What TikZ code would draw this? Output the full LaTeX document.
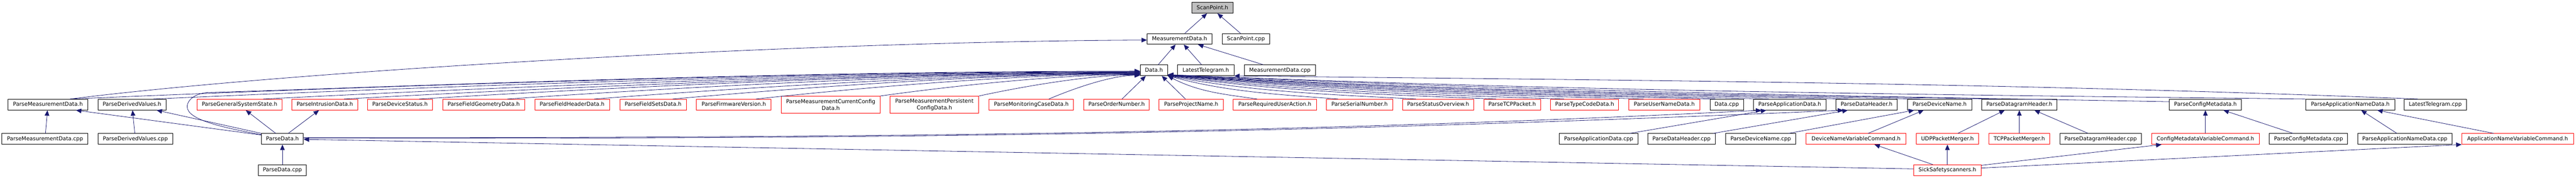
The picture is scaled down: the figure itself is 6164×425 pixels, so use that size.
\documentclass[tikz,border=0pt]{standalone}
\usepackage{fontspec}
\setmainfont{DejaVu Sans}
\usetikzlibrary{arrows.meta}
\definecolor{edgeblue}{HTML}{191970}
\definecolor{nodegray}{HTML}{BFBFBF}
\begin{document}
\begin{tikzpicture}[x=1bp,y=-1bp,
  box/.style={draw=black, line width=1.1bp, fill=white, inner sep=0pt, minimum height=25.7bp, text height=9.6bp, text depth=2.6bp, font=\fontsize{12.9bp}{15.6bp}\selectfont},
  blk/.style={box, minimum width=#1},
  redb/.style={box, draw=red, minimum width=#1},
  redtwo/.style={draw=red, line width=1.1bp, fill=white, inner sep=0pt, minimum width=#1, minimum height=40.3bp, align=center, font=\fontsize{12.9bp}{15.6bp}\selectfont},
  dep/.style={draw=edgeblue, line width=1bp, arrows={-Triangle[length=13bp,width=11bp]}}]
\useasboundingbox (0,0) rectangle (6164,425);
% row 0-2
\node[blk=99bp, fill=nodegray] (sph) at (2901.2,18.7) {ScanPoint.h};
\node[blk=155bp] (mdh) at (2822.5,93) {MeasurementData.h};
\node[blk=113.3bp] (spcpp) at (2981.3,93) {ScanPoint.cpp};
\node[blk=65.3bp] (datah) at (2761.3,168) {Data.h};
\node[blk=135bp] (lth) at (2885.2,168) {LatestTelegram.h};
\node[blk=170.3bp] (mdcpp) at (3062.5,168) {MeasurementData.cpp};
% row 3
\node[blk=191.3bp] (pmdh) at (114.7,250) {ParseMeasurementData.h};
\node[blk=163bp] (pdvh) at (315.8,250) {ParseDerivedValues.h};
\node[redb=203bp] (pgssh) at (573.2,250) {ParseGeneralSystemState.h};
\node[redb=157.3bp] (pidh) at (777.3,250) {ParseIntrusionData.h};
\node[redb=155bp] (pdsh) at (957.2,250) {ParseDeviceStatus.h};
\node[redb=196bp] (pfgdh) at (1157.3,250) {ParseFieldGeometryData.h};
\node[redb=178.7bp] (pfhdh) at (1369,250) {ParseFieldHeaderData.h};
\node[redb=158.7bp] (pfsdh) at (1562.7,250) {ParseFieldSetsData.h};
\node[redb=178.7bp] (pfvh) at (1756,250) {ParseFirmwareVersion.h};
\node[redtwo=236.3bp] (pmccdh) at (1987.8,250) {ParseMeasurementCurrentConfig\\Data.h};
\node[redtwo=212.3bp] (pmpcdh) at (2235.8,250) {ParseMeasurementPersistent\\ConfigData.h};
\node[redb=202.7bp] (pmcdh) at (2467.7,250) {ParseMonitoringCaseData.h};
\node[redb=156.3bp] (ponh) at (2671.8,250) {ParseOrderNumber.h};
\node[redb=153.3bp] (ppnh) at (2850.3,250) {ParseProjectName.h};
\node[redb=199bp] (pruah) at (3050.5,250) {ParseRequiredUserAction.h};
\node[redb=158bp] (psnh) at (3253.3,250) {ParseSerialNumber.h};
\node[redb=171bp] (psoh) at (3441.2,250) {ParseStatusOverview.h};
\node[redb=135bp] (ptcph) at (3618.5,250) {ParseTCPPacket.h};
\node[redb=163bp] (ptcdh) at (3791.8,250) {ParseTypeCodeData.h};
\node[redb=169.7bp] (pundh) at (3982.5,250) {ParseUserNameData.h};
\node[blk=80.3bp] (datacpp) at (4131.8,250) {Data.cpp};
\node[blk=173.7bp] (padh) at (4282.5,250) {ParseApplicationData.h};
\node[blk=147bp] (pdhh) at (4466.5,250) {ParseDataHeader.h};
\node[blk=153.7bp] (pdnh) at (4641.2,250) {ParseDeviceName.h};
\node[blk=180.7bp] (pdgh) at (4832,250) {ParseDatagramHeader.h};
\node[blk=172.3bp] (pcmh) at (5277.2,250) {ParseConfigMetadata.h};
\node[blk=212.3bp] (pandh) at (5623.8,250) {ParseApplicationNameData.h};
\node[blk=149.3bp] (ltcpp) at (5827.3,250) {LatestTelegram.cpp};
% row 4
\node[blk=206bp] (pmdcpp) at (107.7,332) {ParseMeasurementData.cpp};
\node[blk=179bp] (pdvcpp) at (323.8,332) {ParseDerivedValues.cpp};
\node[blk=100.3bp] (pdh) at (675.8,332) {ParseData.h};
\node[blk=188.3bp] (padcpp) at (3825.2,332) {ParseApplicationData.cpp};
\node[blk=161.3bp] (pdhcpp) at (4023.7,332) {ParseDataHeader.cpp};
\node[blk=168.3bp] (pdncpp) at (4213.2,332) {ParseDeviceName.cpp};
\node[redb=239bp] (dnvc) at (4441.2,332) {DeviceNameVariableCommand.h};
\node[redb=149bp] (udppm) at (4659.8,332) {UDPPacketMerger.h};
\node[redb=145bp] (tcppm) at (4831.8,332) {TCPPacketMerger.h};
\node[blk=195bp] (pdgcpp) at (5026.5,332) {ParseDatagramHeader.cpp};
\node[redb=257.7bp] (cmvc) at (5277.2,332) {ConfigMetadataVariableCommand.h};
\node[blk=187bp] (pcmcpp) at (5523.8,332) {ParseConfigMetadata.cpp};
\node[blk=226bp] (pandcpp) at (5754.3,332) {ParseApplicationNameData.cpp};
\node[redb=267bp] (anvc) at (6024.2,332) {ApplicationNameVariableCommand.h};
% row 5
\node[blk=114.3bp] (pdcpp) at (675.8,406.5) {ParseData.cpp};
\node[redb=161.7bp] (ssh) at (4659.8,406.5) {SickSafetyscanners.h};
% top edges
\draw[dep] ([xshift=12.5bp]mdh.north) -- ([xshift=-13bp]sph.south);
\draw[dep] ([xshift=-13bp]spcpp.north) -- ([xshift=12bp]sph.south);
\draw[dep] ([xshift=10bp]datah.north) -- ([xshift=-9.5bp]mdh.south);
\draw[dep] ([xshift=-10bp]lth.north) -- ([xshift=10bp]mdh.south);
\draw[dep] ([xshift=-39.5bp]mdcpp.north) -- ([xshift=44bp]mdh.south);
\draw[dep] ([xshift=53bp]pmdh.north) .. controls +(532,-67) and +(-845,4) .. ([yshift=-2.7bp]mdh.west);
% left fan into Data.h
\draw[dep] ([xshift=53bp]pmdh.north) .. controls +(768,-33) and +(-768,0) .. ([yshift=-3bp]datah.west);
\draw[dep] ([xshift=51bp]pdvh.north) .. controls +(709,-32) and +(-709,0) .. ([yshift=-4bp]datah.west);
\draw[dep] ([xshift=57bp]pgssh.north) .. controls +(630,-32) and +(-630,0) .. ([yshift=-5bp]datah.west);
\draw[dep] ([xshift=46bp]pidh.north) .. controls +(572,-31) and +(-572,0) .. ([yshift=-6bp]datah.west);
\draw[dep] ([xshift=46bp]pdsh.north) .. controls +(518,-31) and +(-518,0) .. ([yshift=-6bp]datah.west);
\draw[dep] ([xshift=57bp]pfgdh.north) .. controls +(455,-31) and +(-455,0) .. ([yshift=-7bp]datah.west);
\draw[dep] ([xshift=53bp]pfhdh.north) .. controls +(392,-30) and +(-392,0) .. ([yshift=-8bp]datah.west);
\draw[dep] ([xshift=47bp]pfsdh.north) .. controls +(336,-30) and +(-336,0) .. ([yshift=-8bp]datah.west);
\draw[dep] ([xshift=53bp]pfvh.north) .. controls +(276,-30) and +(-276,0) .. ([yshift=-9bp]datah.west);
\draw[dep] (pmccdh.north east) .. controls +(187,-26) and +(-187,0) .. ([yshift=-10bp]datah.west);
\draw[dep] (pmpcdh.north east) .. controls +(116,-25) and +(-116,0) .. ([yshift=-11bp]datah.west);
\draw[dep] ([xshift=42bp]pmcdh.north) .. controls +(66,-28) and +(-66,0) .. ([yshift=-12bp]datah.west);
\draw[dep] ([xshift=13bp]ponh.north) -- ([xshift=-19.6bp]datah.south);
\draw[dep] ([xshift=-13.6bp]ppnh.north) -- ([xshift=18.7bp]datah.south);
\draw[dep] ([yshift=-3bp]pdh.north west) .. controls +(-100,-18) and +(0,30) .. (448,255) .. controls +(0,-20) and +(-25,0) .. (500,221) .. controls +(400,-12) and +(-900,0) .. ([yshift=-2bp]datah.west);
% right fan into Data.h
\draw[dep] ([xshift=-42.5bp]pruah.north) .. controls +(-75,-11) and +(75,39) .. (datah.south east);
\draw[dep] ([xshift=-51.6bp]psnh.north) .. controls +(-143,-11) and +(143,39) .. ([yshift=0.5bp]datah.south east);
\draw[dep] ([xshift=-53bp]psoh.north) .. controls +(-208,-11) and +(208,39) .. ([yshift=0.5bp]datah.south east);
\draw[dep] ([xshift=-38.5bp]ptcph.north) .. controls +(-275,-11) and +(275,39) .. ([yshift=1bp]datah.south east);
\draw[dep] ([xshift=-49bp]ptcdh.north) .. controls +(-332,-11) and +(332,39) .. ([yshift=1bp]datah.south east);
\draw[dep] ([xshift=-49.5bp]pundh.north) .. controls +(-399,-11) and +(399,39) .. ([yshift=1.5bp]datah.south east);
\draw[dep] ([xshift=-27bp]datacpp.north) .. controls +(-459,-11) and +(459,39) .. ([yshift=1.5bp]datah.south east);
\draw[dep] ([xshift=-49.5bp]padh.north) .. controls +(-504,-11) and +(504,39) .. ([yshift=2bp]datah.south east);
\draw[dep] ([xshift=-43.5bp]pdhh.north) .. controls +(-570,-11) and +(570,39) .. ([yshift=2bp]datah.south east);
\draw[dep] ([xshift=-46bp]pdnh.north) .. controls +(-630,-11) and +(630,39) .. ([yshift=2.5bp]datah.south east);
\draw[dep] ([xshift=-52bp]pdgh.north) .. controls +(-695,-11) and +(695,39) .. ([yshift=2.5bp]datah.south east);
\draw[dep] ([yshift=7bp]pcmh.west) .. controls +(-839,-15) and +(839,39) .. ([yshift=3bp]datah.south east);
\draw[dep] (pandh.north west) .. controls +(-953,-11) and +(953,39) .. ([yshift=3bp]datah.south east);
\draw[dep] ([xshift=-42bp]ltcpp.north) .. controls +(-991,-39) and +(991,11) .. (lth.south east);
% ParseData.h
\draw[dep] ([xshift=-16bp]pdh.north) -- ([xshift=15bp]pgssh.south);
\draw[dep] ([xshift=14bp]pdh.north) -- ([xshift=-14bp]pidh.south);
\draw[dep] ([yshift=-4bp]pdh.north west) -- ([xshift=67bp]pmdh.south);
\draw[dep] (pdh.north west) -- ([xshift=59bp]pdvh.south);
\draw[dep] (pdcpp) -- (pdh);
\draw[dep] ([yshift=3bp]ssh.west) -- ([yshift=-1bp]pdh.east);
\draw[dep] ([yshift=3bp]pdh.east) .. controls +(1200,0) and +(-1200,60) .. ([xshift=-68bp]padh.south);
\draw[dep] ([yshift=2bp]pdh.east) .. controls +(1300,2) and +(-1400,60) .. ([xshift=-56bp]pdhh.south);
% lower right
\draw[dep] ([xshift=75bp]padcpp.north) -- ([xshift=-56bp]padh.south);
\draw[dep] ([xshift=76bp]pdhcpp.north) -- ([xshift=-45bp]pdhh.south);
\draw[dep] ([xshift=67bp]pdncpp.north) -- ([xshift=-61bp]pdnh.south);
\draw[dep] ([xshift=29bp]dnvc.north) -- ([xshift=-38bp]pdnh.south);
\draw[dep] ([xshift=-35bp]ssh.north) -- ([xshift=44bp]dnvc.south);
\draw[dep] (ssh) -- (udppm);
\draw[dep] ([xshift=25bp]udppm.north) -- ([xshift=-35bp]pdgh.south);
\draw[dep] (tcppm) -- (pdgh);
\draw[dep] ([xshift=-30bp]pdgcpp.north) -- ([xshift=36bp]pdgh.south);
\draw[dep] ([yshift=11.5bp]ssh.east) -- ([xshift=-105bp]cmvc.south);
\draw[dep] ([yshift=5bp]ssh.east) -- (anvc.south west);
\draw[dep] (cmvc) -- (pcmh);
\draw[dep] ([xshift=-37bp]pcmcpp.north) -- ([xshift=43bp]pcmh.south);
\draw[dep] ([xshift=-19bp]pandcpp.north) -- ([xshift=26bp]pandh.south);
\draw[dep] ([xshift=-57.5bp]anvc.north) -- ([xshift=64.5bp]pandh.south);
\draw[dep] (pmdcpp) -- (pmdh);
\draw[dep] (pdvcpp) -- (pdvh);
\end{tikzpicture}
\end{document}
